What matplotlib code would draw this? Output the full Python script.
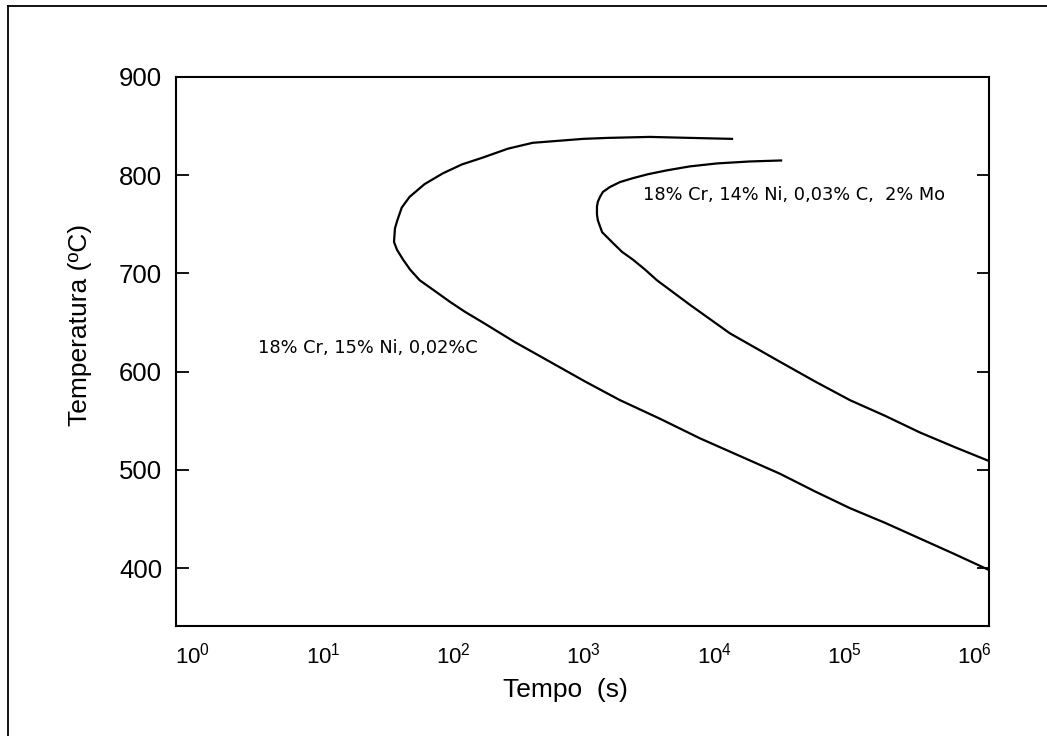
import matplotlib
matplotlib.use("Agg")
import matplotlib.pyplot as plt
from matplotlib.lines import Line2D

plt.rcParams['font.family'] = ['Liberation Sans', 'DejaVu Sans']
plt.rcParams['mathtext.fontset'] = 'custom'
plt.rcParams['mathtext.rm'] = 'Liberation Sans'
plt.rcParams['mathtext.it'] = 'Liberation Sans'

# curva 18% Cr, 15% Ni, 0,02%C  (tempo em s, temperatura em ºC)
t_a = [13700, 6520, 3200, 1530, 985, 633, 405, 261, 168, 116, 83, 60,
       46, 40, 37, 35.5, 34.9, 36.8, 41, 46.3, 55, 72, 94, 122, 168,
       296, 550, 1020, 1890, 3840, 7800, 15800, 32000, 59400, 110000,
       205000, 380000, 705000, 1285000]
T_a = [837, 838, 839, 838, 837, 835, 833, 827, 818, 811, 802, 791,
       778, 767, 754, 746, 732, 724, 714, 704, 693, 682, 671, 661, 650,
       630, 610, 590, 571, 552, 532, 514, 496, 478, 461,
       446, 430, 414, 398]

# curva 18% Cr, 14% Ni, 0,03% C, 2% Mo
t_b = [32600, 18800, 10500, 6520, 4350, 3100, 2380, 1890, 1585, 1400,
       1330, 1280, 1260, 1260, 1280, 1380, 1670, 1960, 2380, 2940, 3640,
       6520, 13200, 32000, 59400, 110000, 205000, 380000, 705000, 1285000]
T_b = [815, 814, 812, 809, 805, 801, 797, 793, 788, 783,
       778, 773, 768, 760, 754, 742, 731, 722, 714, 704, 693,
       668, 639, 610, 590, 571, 555, 538, 523, 509]

label_a = "18% Cr, 15% Ni, 0,02%C"
label_b = "18% Cr, 14% Ni, 0,03% C,  2% Mo"
yticks = [400, 500, 600, 700, 800, 900]
xticks = [1, 10, 100, 1000, 10000, 100000, 1000000]
xtick_labels = [r'$10^{%d}$' % i for i in range(7)]

W, H = 1047, 736
fig = plt.figure(figsize=(W / 100, H / 100), dpi=100)
ax = fig.add_axes([176 / W, 1 - 626 / H, 813 / W, 549 / H])

ax.plot(t_a, T_a, color='black', lw=1.6, solid_joinstyle='round')
ax.plot(t_b, T_b, color='black', lw=1.6, solid_joinstyle='round')

ax.set_xscale('log')
ax.set_xlim(0.741, 1285000)
ax.set_ylim(341, 900)

ax.set_xticks(xticks)
ax.set_xticklabels(xtick_labels, fontsize=16)
ax.minorticks_off()
ax.tick_params(axis='x', length=0, pad=12)
ax.set_yticks(yticks)
ax.tick_params(axis='y', direction='in', length=9, width=1.3,
               right=True, labelsize=18.5, pad=10)

for s in ax.spines.values():
    s.set_linewidth(1.5)

ax.text(3.15, 624, label_a, fontsize=12.8, family='DejaVu Sans',
        ha='left', va='center')
ax.text(2840, 780, label_b, fontsize=12.8, family='DejaVu Sans',
        ha='left', va='center')

fig.text(80 / W, 1 - 325 / H, "Temperatura (ºC)", rotation=90,
         fontsize=19, ha='center', va='center')
fig.text(565 / W, 1 - 690 / H, "Tempo  (s)", fontsize=19,
         ha='center', va='center')

# moldura externa (só esquerda e topo visíveis)
fig.add_artist(Line2D([8 / W, 8 / W], [0, 1 - 6 / H], color='black',
                      lw=1.3, transform=fig.transFigure))
fig.add_artist(Line2D([8 / W, 1], [1 - 6 / H, 1 - 6 / H], color='black',
                      lw=1.3, transform=fig.transFigure))

fig.savefig('out.png', dpi=100)
